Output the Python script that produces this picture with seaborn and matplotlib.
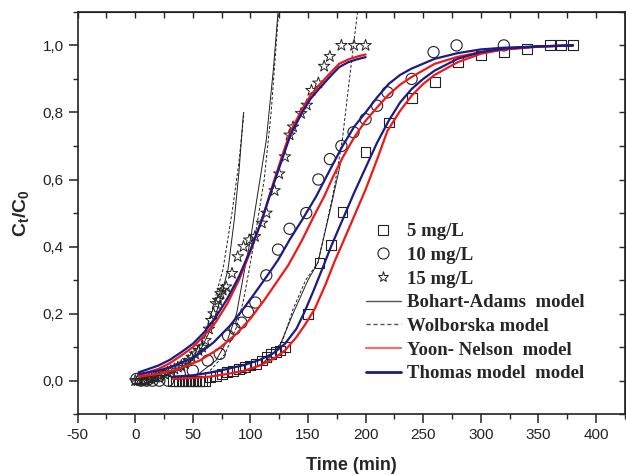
import numpy as np
import pandas as pd
import seaborn as sns
import matplotlib
matplotlib.use("Agg")
import matplotlib.pyplot as plt
from matplotlib.lines import Line2D

# experimental points
t_5 = [33, 35.5, 38, 40.5, 43, 45.5, 48, 50.5, 53, 55.5, 58, 60.5, 65, 70, 75, 80, 85, 90, 95, 100,
       105, 110, 114, 118, 122, 126, 130, 150, 160, 170, 180, 200, 220, 240, 260, 280, 300, 320,
       340, 360, 370, 380]
c_5 = [0, 0, 0, 0, 0, 0, 0, 0, 0, 0, 0, 0, 0.01, 0.015, 0.02, 0.025, 0.03, 0.035, 0.04, 0.045,
       0.05, 0.06, 0.07, 0.08, 0.085, 0.09, 0.10, 0.20, 0.35, 0.404, 0.503, 0.681, 0.770, 0.842,
       0.891, 0.950, 0.970, 0.980, 0.990, 1.0, 1.0, 1.0]

t_10 = [1, 5, 10, 15, 21, 28.5, 38.7, 50, 63, 73.4, 80.6, 86.4, 92.2, 97.9, 104.3, 113.8, 124, 134,
        148.5, 159, 169, 179, 189.5, 200, 210, 219, 240, 259, 279, 320]
c_10 = [0.005, 0, 0, 0, 0, 0, 0.02, 0.03, 0.06, 0.08, 0.134, 0.154, 0.173, 0.205, 0.233, 0.314,
        0.391, 0.453, 0.50, 0.60, 0.661, 0.70, 0.741, 0.78, 0.82, 0.86, 0.90, 0.98, 1.0, 1.0]

t_15 = [0, 2, 4, 6, 8, 10, 12, 14, 16, 18, 20, 22, 25, 28, 31, 34, 37, 40, 43, 46, 49, 52, 55, 58,
        61, 64, 66, 68, 70, 72, 74, 76, 79, 84, 89, 94, 99, 104, 110, 114, 121, 125, 130, 134,
        137, 144, 149, 153, 159, 164, 169, 179, 190, 200]
c_15 = [0, 0, 0, 0, 0, 0, 0.005, 0.005, 0.01, 0.01, 0.01, 0.015, 0.02, 0.025, 0.03, 0.035, 0.04,
        0.045, 0.05, 0.06, 0.07, 0.08, 0.09, 0.1, 0.12, 0.154, 0.18, 0.2, 0.23, 0.24, 0.26, 0.27,
        0.28, 0.32, 0.37, 0.40, 0.42, 0.43, 0.47, 0.50, 0.567, 0.617, 0.668, 0.733, 0.757, 0.797,
        0.822, 0.866, 0.888, 0.938, 0.967, 1.0, 1.0, 1.0]

# Thomas model
th_t_5 = [33, 50, 65, 80, 95, 108, 120, 130, 140, 147, 155, 162, 170, 180, 190, 200, 210, 220, 230,
          240, 250, 260, 280, 300, 320, 350, 380]
th_c_5 = [0.012, 0.016, 0.024, 0.035, 0.047, 0.062, 0.082, 0.11, 0.155, 0.205, 0.27, 0.33, 0.40,
          0.48, 0.56, 0.635, 0.71, 0.775, 0.83, 0.87, 0.90, 0.925, 0.96, 0.98, 0.99, 0.997, 1.0]
th_t_10 = [3, 20, 35, 53, 68, 82, 94, 104, 114, 124, 134, 145, 157, 170, 180, 190, 200, 210, 220,
           230, 240, 260, 280, 300, 320, 350, 380]
th_c_10 = [0.02, 0.03, 0.045, 0.074, 0.114, 0.163, 0.215, 0.262, 0.31, 0.36, 0.42, 0.48, 0.549,
           0.635, 0.70, 0.757, 0.80, 0.845, 0.885, 0.912, 0.931, 0.96, 0.977, 0.988, 0.993, 0.997,
           1.0]
th_t_15 = [3, 10, 20, 30, 40, 50, 60, 70, 80, 90, 100, 110, 120, 128, 135, 145, 152, 160, 170, 177,
           185, 192, 200]
th_c_15 = [0.025, 0.033, 0.045, 0.062, 0.085, 0.11, 0.145, 0.19, 0.245, 0.31, 0.39, 0.48, 0.585,
           0.665, 0.735, 0.80, 0.84, 0.872, 0.91, 0.935, 0.95, 0.958, 0.965]

# Yoon-Nelson model
yn_t_5 = [33, 50, 65, 80, 95, 108, 120, 130, 140, 148, 156, 165, 173, 180, 190, 200, 210, 219, 230,
          240, 250, 260, 280, 300, 320, 350, 380]
yn_c_5 = [0.005, 0.008, 0.012, 0.02, 0.03, 0.045, 0.065, 0.09, 0.13, 0.17, 0.215, 0.285, 0.355,
          0.41, 0.49, 0.57, 0.66, 0.745, 0.805, 0.85, 0.885, 0.912, 0.95, 0.975, 0.988, 0.997, 1.0]
yn_t_10 = [3, 20, 35, 56, 72, 88, 100, 112, 122, 133, 145, 155, 164, 172, 180, 190, 200, 210, 220,
           230, 240, 260, 280, 300, 320, 350, 380]
yn_c_10 = [0.012, 0.02, 0.032, 0.06, 0.094, 0.14, 0.185, 0.24, 0.29, 0.345, 0.42, 0.49, 0.549,
           0.61, 0.665, 0.725, 0.775, 0.815, 0.853, 0.883, 0.906, 0.945, 0.966, 0.98, 0.988, 0.996,
           1.0]
yn_t_15 = [3, 10, 20, 30, 40, 50, 60, 70, 80, 90, 100, 110, 120, 128, 135, 145, 152, 160, 170, 177,
           185, 192, 200]
yn_c_15 = [0.015, 0.024, 0.035, 0.052, 0.075, 0.10, 0.135, 0.175, 0.23, 0.30, 0.385, 0.48, 0.59,
           0.675, 0.745, 0.81, 0.85, 0.883, 0.92, 0.945, 0.958, 0.966, 0.973]

# Bohart-Adams model
ba_t_5 = [90, 110, 125, 137, 150, 158.6, 170, 179]
ba_c_5 = [0.02, 0.05, 0.1, 0.2, 0.3, 0.352, 0.52, 0.66]
ba_t_10 = [55, 70, 80, 88, 95, 100, 106, 113.8, 120, 124]
ba_c_10 = [0.02, 0.06, 0.12, 0.2, 0.332, 0.42, 0.55, 0.718, 0.93, 1.1]
ba_t_15 = [40, 55, 65, 72, 80.6, 86, 90, 94]
ba_c_15 = [0.03, 0.08, 0.15, 0.22, 0.332, 0.48, 0.62, 0.80]

# Wolborska model
wo_t_5 = [95, 115, 128, 137, 148, 158.6, 165, 172, 179.8, 186, 193]
wo_c_5 = [0.02, 0.06, 0.12, 0.213, 0.3, 0.352, 0.45, 0.56, 0.718, 0.9, 1.1]
wo_t_10 = [65, 78, 88, 94, 99, 105, 112, 118, 124.5]
wo_c_10 = [0.03, 0.08, 0.16, 0.24, 0.332, 0.45, 0.6, 0.8, 1.1]
wo_t_15 = [45, 58, 66, 72, 76.2, 84, 90, 94.4]
wo_c_15 = [0.04, 0.12, 0.2, 0.28, 0.332, 0.5, 0.65, 0.80]

legend_labels = ["5 mg/L", "10 mg/L", "15 mg/L", "Bohart-Adams  model", "Wolborska model",
                 "Yoon- Nelson  model", "Thomas model  model"]

sns.set_style("ticks")
plt.rcParams["font.family"] = ["Liberation Sans", "DejaVu Sans"]
plt.rcParams["mathtext.fontset"] = "custom"
plt.rcParams["mathtext.rm"] = "Liberation Sans"
plt.rcParams["mathtext.bf"] = "Liberation Sans:bold"

RED = "#f01818"
NAVY = "#1c1c82"
THIN = "#202020"

fig = plt.figure(figsize=(6.26, 4.75), dpi=100)
ax = fig.add_axes([0.124, 0.128, 0.874, 0.847])

# thin model lines
for tt, cc in [(ba_t_5, ba_c_5), (ba_t_10, ba_c_10), (ba_t_15, ba_c_15)]:
    sns.lineplot(x=tt, y=cc, ax=ax, color=THIN, lw=0.7, estimator=None, sort=False)
for tt, cc in [(wo_t_5, wo_c_5), (wo_t_10, wo_c_10), (wo_t_15, wo_c_15)]:
    sns.lineplot(x=tt, y=cc, ax=ax, color=THIN, lw=0.7, ls=(0, (3, 2)), estimator=None, sort=False)

# markers
sns.scatterplot(x=t_5, y=c_5, ax=ax, marker="s", s=50, facecolors="none", edgecolors="#222222",
                linewidth=0.8, zorder=3)
sns.scatterplot(x=t_10, y=c_10, ax=ax, marker="o", s=65, facecolors="none", edgecolors="#222222",
                linewidth=0.8, zorder=3)
sns.scatterplot(x=t_15, y=c_15, ax=ax, marker="*", s=75, facecolors="none", edgecolors="#222222",
                linewidth=0.7, zorder=3)

# fitted curves
for tt, cc in [(yn_t_5, yn_c_5), (yn_t_10, yn_c_10), (yn_t_15, yn_c_15)]:
    sns.lineplot(x=tt, y=cc, ax=ax, color=RED, lw=1.6, estimator=None, sort=False, zorder=4)
for tt, cc in [(th_t_5, th_c_5), (th_t_10, th_c_10), (th_t_15, th_c_15)]:
    sns.lineplot(x=tt, y=cc, ax=ax, color=NAVY, lw=1.6, estimator=None, sort=False, zorder=4)

ax.set_xlim(-50, 425)
ax.set_ylim(-0.1, 1.1)
ax.set_xticks(np.arange(-50, 401, 50))
ax.set_xticks(np.arange(-50, 426, 25), minor=True)
ax.set_yticks(np.arange(0, 1.01, 0.2))
ax.set_yticks(np.arange(-0.1, 1.11, 0.1), minor=True)
ax.set_xticklabels([str(v) for v in range(-50, 401, 50)])
ax.set_yticklabels([f"{v:.1f}".replace(".", ",") for v in np.arange(0, 1.01, 0.2)])
ax.tick_params(which="major", direction="out", length=6.5, width=1.1, labelsize=11, colors="#222222")
ax.tick_params(which="minor", direction="out", length=3.5, width=1.0)
for sp in ax.spines.values():
    sp.set_visible(True)
    sp.set_linewidth(1.2)
    sp.set_color("#222222")

top = ax.secondary_xaxis("top")
top.set_xticks(np.arange(-50, 401, 50))
top.set_xticks(np.arange(-50, 426, 25), minor=True)
top.tick_params(which="both", direction="in", labeltop=False, length=4, width=1.0)
right = ax.secondary_yaxis("right")
right.set_yticks(np.arange(0, 1.01, 0.2))
right.set_yticks(np.arange(-0.1, 1.11, 0.1), minor=True)
right.tick_params(which="both", direction="in", labelright=False, length=4, width=1.0)

ax.set_xlabel("Time (min)", fontsize=13, fontweight="bold", labelpad=11)
ax.set_ylabel(r"$\mathbf{C_t/C_0}$", fontsize=14, labelpad=8)

handles = [
    Line2D([], [], ls="", marker="s", ms=7, mfc="none", mec="#222222", mew=0.8),
    Line2D([], [], ls="", marker="o", ms=8, mfc="none", mec="#222222", mew=0.8),
    Line2D([], [], ls="", marker="*", ms=8, mfc="none", mec="#222222", mew=0.7),
    Line2D([], [], color="#555555", lw=1.0),
    Line2D([], [], color="#555555", lw=1.0, ls=(0, (3, 2))),
    Line2D([], [], color="#f07070", lw=1.6),
    Line2D([], [], color=NAVY, lw=2.0),
]
ax.legend(handles, legend_labels, loc="upper left", bbox_to_anchor=(0.527, 0.475), frameon=False,
          prop={"family": "Liberation Serif", "weight": "bold", "size": 13.5},
          handlelength=1.85, handletextpad=0.35, labelspacing=0.35, borderaxespad=0,
          borderpad=0)

fig.savefig("out.png", dpi=100)
